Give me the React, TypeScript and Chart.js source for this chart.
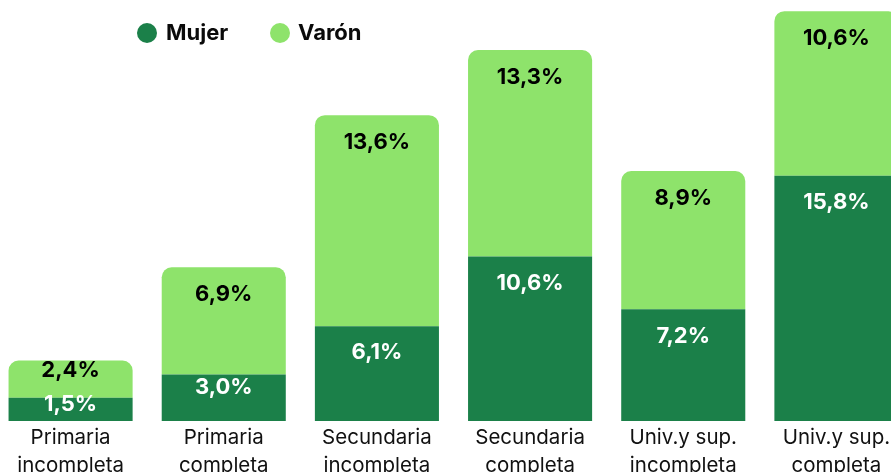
import React, { useEffect, useRef } from "react";
import { Chart, registerables } from "chart.js";

Chart.register(...registerables);

const categories: string[][] = [
  ["Primaria", "incompleta"],
  ["Primaria", "completa"],
  ["Secundaria", "incompleta"],
  ["Secundaria", "completa"],
  ["Univ.y sup.", "incompleta"],
  ["Univ.y sup.", "completa"],
];
const mujer = [1.5, 3.0, 6.1, 10.6, 7.2, 15.8];
const varon = [2.4, 6.9, 13.6, 13.3, 8.9, 10.6];
const seriesNames = ["Mujer", "Varón"];
const seriesColors = ["#1b8049", "#8ee36b"];
const labelColors = ["#ffffff", "#000000"];

const fmt = (v: number) => v.toFixed(1).replace(".", ",") + "%";

const labelPlugin = {
  id: "barLabels",
  afterDatasetsDraw(chart: any) {
    const ctx = chart.ctx;
    ctx.save();
    ctx.font = "bold 22px Inter";
    ctx.textAlign = "center";
    ctx.textBaseline = "middle";
    chart.data.datasets.forEach((ds: any, di: number) => {
      const meta = chart.getDatasetMeta(di);
      meta.data.forEach((bar: any, i: number) => {
        const top = Math.min(bar.y, bar.base);
        const h = Math.abs(bar.base - bar.y);
        const off = Math.min(27, h * 0.28);
        ctx.fillStyle = labelColors[di];
        ctx.fillText(fmt(ds.data[i]), bar.x, top + off);
      });
    });
    ctx.restore();
  },
};

const legendPlugin = {
  id: "customLegend",
  afterDraw(chart: any) {
    const ctx = chart.ctx;
    ctx.save();
    ctx.font = "bold 22px Inter";
    ctx.textBaseline = "middle";
    ctx.textAlign = "left";
    const items = [
      { cx: 153, tx: 172 },
      { cx: 286, tx: 304 },
    ];
    items.forEach((it, i) => {
      ctx.fillStyle = seriesColors[i];
      ctx.beginPath();
      ctx.arc(it.cx, 33, 10, 0, Math.PI * 2);
      ctx.fill();
      ctx.fillStyle = "#0a0a0a";
      ctx.fillText(seriesNames[i], it.tx, 33);
    });
    ctx.restore();
  },
};

export default function App() {
  const ref = useRef<HTMLCanvasElement | null>(null);
  useEffect(() => {
    if (!ref.current) return;
    const chart = new Chart(ref.current, {
      type: "bar",
      data: {
        labels: categories,
        datasets: [
          {
            label: seriesNames[0],
            data: mujer,
            backgroundColor: seriesColors[0],
            borderRadius: 0,
            categoryPercentage: 0.81,
            barPercentage: 1,
          },
          {
            label: seriesNames[1],
            data: varon,
            backgroundColor: seriesColors[1],
            borderRadius: { topLeft: 10, topRight: 10, bottomLeft: 0, bottomRight: 0 },
            borderSkipped: false,
            categoryPercentage: 0.81,
            barPercentage: 1,
          },
        ],
      },
      options: {
        responsive: false,
        animation: false,
        devicePixelRatio: 1,
        layout: { padding: 0 },
        plugins: {
          legend: { display: false },
          tooltip: { enabled: false },
        },
        scales: {
          x: {
            stacked: true,
            grid: { display: false, drawTicks: false },
            border: { display: false },
            ticks: {
              font: { family: "Inter", size: 20.5, lineHeight: 1.37 },
              color: "#111111",
              padding: 3,
              maxRotation: 0,
              autoSkip: false,
            },
            afterFit: (s: any) => {
              s.height = 59;
            },
          },
          y: {
            stacked: true,
            display: false,
            min: 0,
            max: 27.12,
          },
        },
      },
      plugins: [labelPlugin, legendPlugin],
    } as any);
    let alive = true;
    (document as any).fonts?.ready?.then(() => {
      if (alive) chart.update();
    });
    return () => {
      alive = false;
      chart.destroy();
    };
  }, []);
  return (
    <div
      style={{
        position: "fixed",
        left: 0,
        top: 0,
        width: 891,
        height: 472,
        overflow: "hidden",
        background: "#ffffff",
      }}
    >
      <canvas
        ref={ref}
        width={919}
        height={480}
        style={{ position: "absolute", left: -6, top: 0, width: 919, height: 480 }}
      />
    </div>
  );
}
